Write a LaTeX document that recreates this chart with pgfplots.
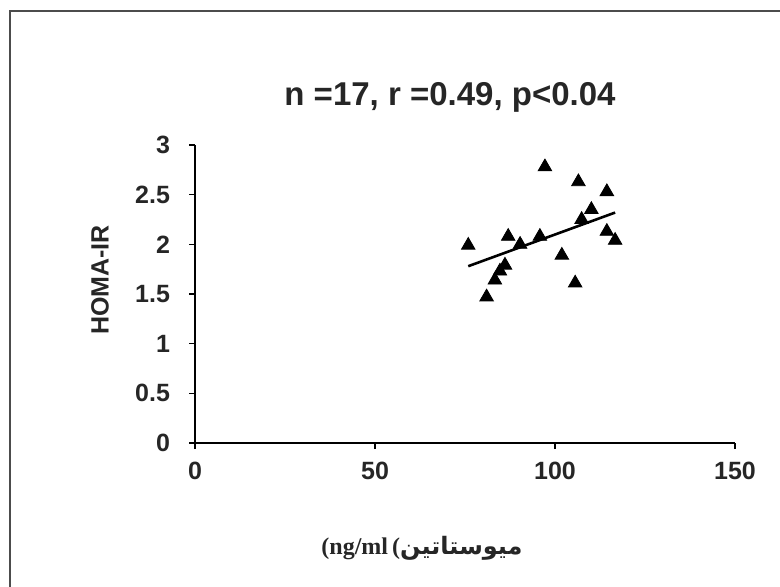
\documentclass[border=0pt]{standalone}
\usepackage{fontspec}
\usepackage{pgfplots}
\pgfplotsset{compat=1.18}
\setmainfont{Liberation Sans}
\newfontfamily\lserif{Liberation Serif}
\newfontfamily\arabicfont[Script=Arabic]{DejaVu Sans}
\TeXXeTstate=1

\begin{document}
\begin{tikzpicture}
% page: 780 x 586 px at 0.5pt per px, origin top left
\useasboundingbox (0pt,0pt) rectangle (390pt,-293pt);
\draw[line width=1.4pt, black!70] (5pt,-300pt) -- (5pt,-5.5pt) -- (400pt,-5.5pt);

\begin{axis}[
  at={(97.5pt,-221.5pt)}, anchor=south west,
  scale only axis,
  width=270pt, height=149pt,
  xmin=0, xmax=150, ymin=0, ymax=3,
  xtick={0,50,100,150},
  ytick={0,0.5,1,1.5,2,2.5,3},
  axis x line=bottom, axis y line=left,
  axis line style={-, line width=0.6pt, black},
  tick align=outside,
  major tick length=3pt,
  tick style={line width=0.8pt, black},
  /pgf/number format/assume math mode=true,
  ticklabel style={font=\fontsize{12.5}{14}\selectfont\bfseries, text=black!85},
  xticklabel style={yshift=-3pt},
  yticklabel style={xshift=-6pt},
  clip=false,
]
\addplot[only marks, mark=triangle*, mark size=3.9pt,
         mark options={fill=black, draw=black}] coordinates {
  (97.2,2.78) (106.5,2.63) (114.4,2.53) (110.1,2.35) (107.4,2.25)
  (95.8,2.08) (87.0,2.08) (90.3,2.00) (75.9,1.99) (114.4,2.13)
  (116.7,2.04) (101.9,1.89) (105.6,1.61) (86.1,1.79) (84.7,1.73)
  (83.3,1.64) (81.0,1.47)
};
% fitted line
\addplot[black, line width=1.3pt] coordinates {(75.9,1.78) (116.7,2.32)};
\end{axis}

\node[font=\fontsize{16.5}{19}\selectfont\bfseries, text=black!85]
  at (225pt,-48.5pt) {n =17, r =0.49, p<0.04};
\node[rotate=90, font=\fontsize{12.5}{14}\selectfont\bfseries, text=black!85]
  at (50pt,-140pt) {HOMA-IR};
\node[font=\fontsize{12}{14}\selectfont\bfseries, text=black!85]
  at (211pt,-274pt) {{\lserif (ng/ml\,(}{\arabicfont\beginR میوستاتین\endR}};
\end{tikzpicture}
\end{document}
